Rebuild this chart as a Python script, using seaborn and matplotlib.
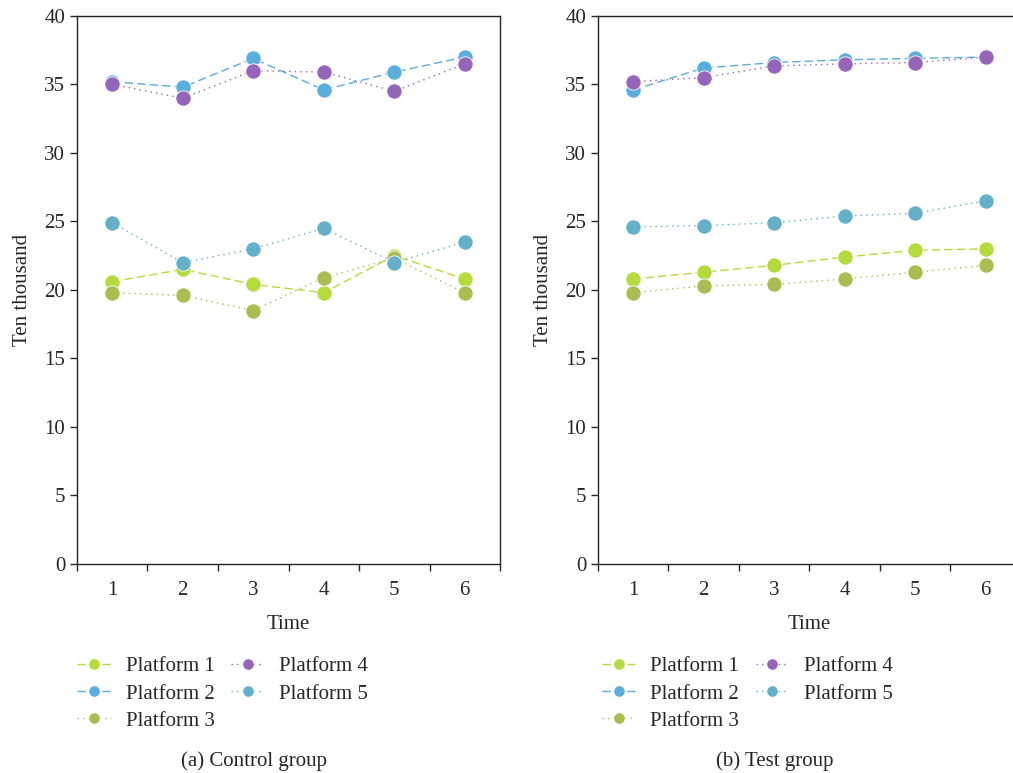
import matplotlib
matplotlib.use("Agg")
import matplotlib.pyplot as plt
import numpy as np
import pandas as pd
import seaborn as sns

# ---------------------------------------------------------------------------
# Data (ten thousand)
# ---------------------------------------------------------------------------
TIME      = [1, 2, 3, 4, 5, 6]
PLATFORMS = ["Platform 1", "Platform 2", "Platform 3", "Platform 4", "Platform 5"]

CONTROL_P1 = [20.6, 21.5, 20.4, 19.8, 22.5, 20.8]
CONTROL_P2 = [35.2, 34.8, 36.9, 34.6, 35.9, 37.0]
CONTROL_P3 = [19.8, 19.6, 18.5, 20.9, 22.3, 19.8]
CONTROL_P4 = [35.0, 34.0, 36.0, 35.9, 34.5, 36.5]
CONTROL_P5 = [24.9, 22.0, 23.0, 24.5, 22.0, 23.5]

TEST_P1 = [20.8, 21.3, 21.8, 22.4, 22.9, 23.0]
TEST_P2 = [34.6, 36.2, 36.6, 36.8, 36.9, 37.0]
TEST_P3 = [19.8, 20.3, 20.4, 20.8, 21.3, 21.8]
TEST_P4 = [35.2, 35.5, 36.35, 36.5, 36.6, 37.0]
TEST_P5 = [24.6, 24.7, 24.9, 25.4, 25.6, 26.5]

COLORS = ["#b5da3b", "#5aaede", "#abbd50", "#9465b8", "#63b0c8"]
DASHES = [(6, 3), (6, 3), (1, 3), (1, 3), (1, 3)]
FS     = 15


def to_long(series):
    rows = []
    for name, vals in zip(PLATFORMS, series):
        for t, v in zip(TIME, vals):
            rows.append({"Time": t, "Value": v, "Platform": name})
    return pd.DataFrame(rows)


sns.set_style("ticks")
plt.rcParams["font.family"] = ["Liberation Serif", "DejaVu Serif"]
plt.rcParams["font.size"] = FS

fig = plt.figure(figsize=(10.13, 7.73), dpi=100)
ax_a = fig.add_axes([0.076, 0.2704, 0.4176, 0.709])
ax_b = fig.add_axes([0.5903, 0.2704, 0.4176, 0.709])

panels = [
    (ax_a, to_long([CONTROL_P1, CONTROL_P2, CONTROL_P3, CONTROL_P4, CONTROL_P5]),
     "(a) Control group", 0.251, 0.068),
    (ax_b, to_long([TEST_P1, TEST_P2, TEST_P3, TEST_P4, TEST_P5]),
     "(b) Test group", 0.765, 0.586),
]

for ax, df, caption, cap_x, leg_x in panels:
    sns.lineplot(data=df, x="Time", y="Value", hue="Platform", style="Platform",
                 palette=dict(zip(PLATFORMS, COLORS)),
                 dashes=dict(zip(PLATFORMS, DASHES)),
                 markers=dict(zip(PLATFORMS, ["o"] * 5)),
                 markersize=11, markeredgecolor="white", markeredgewidth=0.6,
                 linewidth=1.0, ax=ax, legend=True)

    ax.set_xlim(0.5, 6.5)
    ax.set_ylim(0, 40)
    ax.set_yticks(np.arange(0, 41, 5))
    # tick marks sit between categories, labels at the centres
    ax.set_xticks(np.arange(0.5, 7, 1))
    ax.set_xticklabels([])
    ax.set_xticks(TIME, minor=True)
    ax.set_xticklabels([str(t) for t in TIME], minor=True)
    ax.tick_params(axis="x", which="minor", length=0, pad=12, labelsize=FS)
    ax.tick_params(axis="both", which="major", length=5, width=1.0, labelsize=FS)
    ax.set_xlabel("Time", fontsize=FS, labelpad=11)
    ax.set_ylabel("Ten thousand", fontsize=FS, labelpad=9)
    for sp in ax.spines.values():
        sp.set_linewidth(1.0)
        sp.set_color("#222222")

    handles, labels = ax.get_legend_handles_labels()
    ax.get_legend().remove()
    fig.legend(handles, labels, loc="upper left", bbox_to_anchor=(leg_x, 0.161),
               ncol=2, frameon=False, fontsize=FS, handlelength=1.6,
               markerscale=0.75, handletextpad=0.72, columnspacing=0.8,
               labelspacing=0.36, borderaxespad=0)
    fig.text(cap_x, 0.003, caption, ha="center", va="bottom", fontsize=FS)

fig.savefig("out.png", dpi=100)
